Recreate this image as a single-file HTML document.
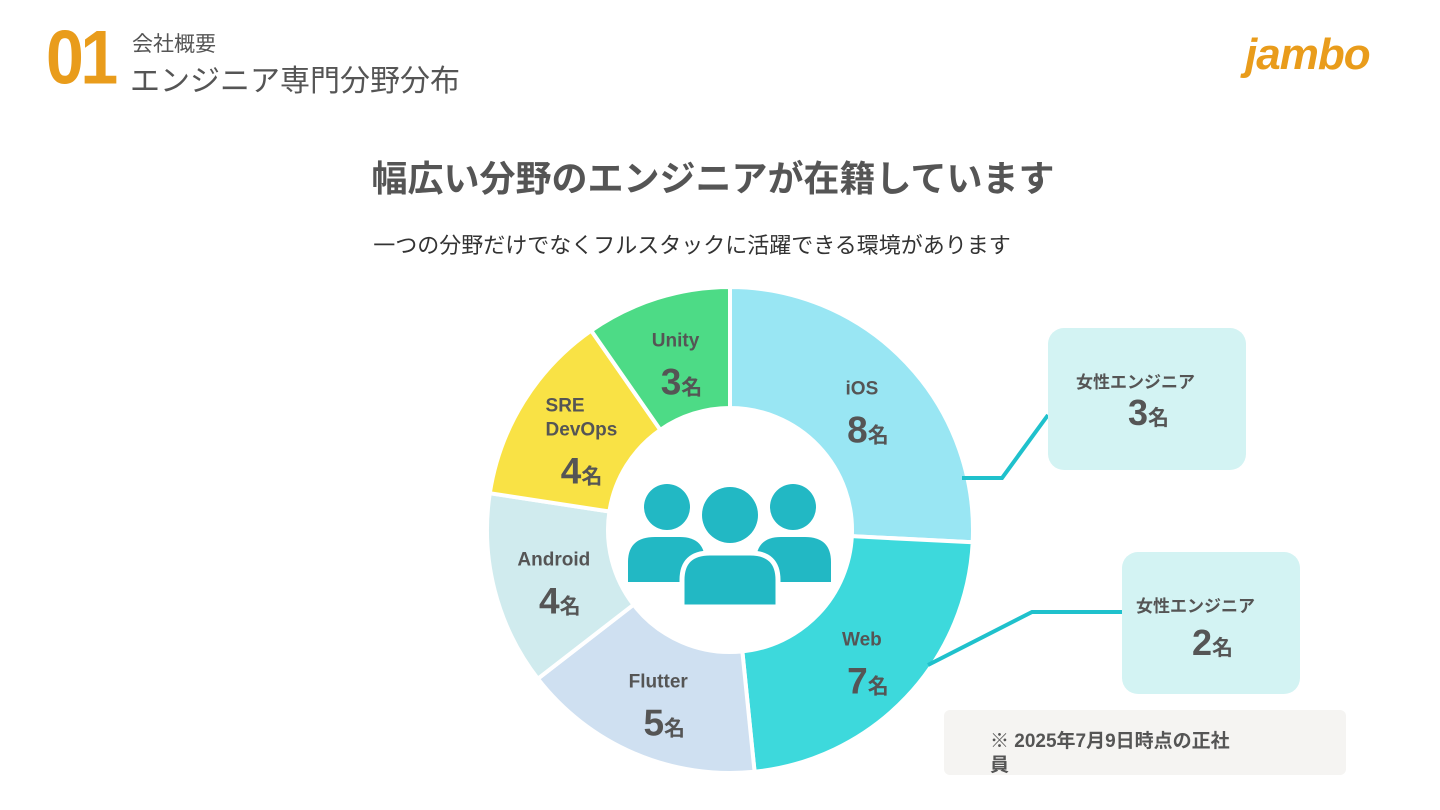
<!DOCTYPE html>
<html><head><meta charset="utf-8"><style>
body{margin:0;width:1440px;height:810px;background:#fff;overflow:hidden;font-family:"Liberation Sans","Noto Sans CJK JP",sans-serif;position:relative}
.a{position:absolute}
</style></head><body>
<div class="a" style="left:46px;top:20px;font-size:80px;font-weight:bold;color:#e99c1b;letter-spacing:-4px;transform:scale(0.85,0.95);transform-origin:left top;line-height:80px">01</div>
<div class="a" style="left:132px;top:28px;font-size:21px;color:#555">会社概要</div>
<div class="a" style="left:130px;top:56px;font-size:30px;color:#555">エンジニア専門分野分布</div>
<div class="a" style="left:1245px;top:30px;font-size:44px;font-style:italic;font-weight:bold;color:#e99c1b;font-family:'Liberation Sans',sans-serif;letter-spacing:-1px">jambo</div>
<div class="a" style="left:0;width:1426px;top:150px;text-align:center;font-size:36px;font-weight:bold;color:#555">幅広い分野のエンジニアが在籍しています</div>
<div class="a" style="left:0;width:1384px;top:228px;text-align:center;font-size:22px;color:#333">一つの分野だけでなくフルスタックに活躍できる環境があります</div>
<svg class="a" style="left:0;top:0" width="1440" height="810" id="chart">
<g id="slices"></g>
<g id="labels"></g>
<g fill="#22b8c4">
<circle cx="667" cy="507" r="23"/><circle cx="793" cy="507" r="23"/>
<path d="M628 582 L628 562 Q628 537 655 537 L680 537 Q705 537 705 562 L705 582 Z"/>
<path d="M756 582 L756 562 Q756 537 781 537 L805 537 Q831 537 831 562 L831 582 Z"/>
<circle cx="730" cy="515" r="31" fill="#fff"/><circle cx="730" cy="515" r="28"/>
<path d="M682 607 L682 580 Q682 553 710 553 L750 553 Q778 553 778 580 L778 607 Z" stroke="#fff" stroke-width="5"/>
</g>
<g fill="none" stroke="#1fc1cc" stroke-width="4">
<polyline points="962,478 1002,478 1048,415"/>
<polyline points="928,665 1032,612 1122,612"/>
</g>
</svg>
<div class="a" style="left:1048px;top:328px;width:198px;height:142px;background:#d3f3f3;border-radius:16px;color:#555;font-weight:bold">
<div style="position:absolute;left:28px;top:40px;font-size:17px">女性エンジニア</div>
<div style="position:absolute;left:80px;top:64px;font-size:36px">3<span style="font-size:21px">名</span></div></div>
<div class="a" style="left:1122px;top:552px;width:178px;height:142px;background:#d3f3f3;border-radius:16px;color:#555;font-weight:bold">
<div style="position:absolute;left:14px;top:40px;font-size:17px">女性エンジニア</div>
<div style="position:absolute;left:70px;top:70px;font-size:36px">2<span style="font-size:21px">名</span></div></div>
<div class="a" style="left:944px;top:710px;width:402px;height:65px;background:#f5f4f2;border-radius:6px;color:#555;font-weight:bold;font-size:19px">
<div style="position:absolute;left:46px;top:20px;line-height:24px">※ 2025年7月9日時点の正社<br>員</div></div>
<script>
const categories=["iOS","Web","Flutter","Android","SRE\nDevOps","Unity"];
const counts=[8,7,5,4,4,3];
const colors=["#99e6f3","#3dd9dc","#cfe0f1","#d0ebee","#f9e245","#4ddb86"];
const cx=730,cy=530,R=243,r0=122;
const ns="http://www.w3.org/2000/svg";
const total=counts.reduce((a,b)=>a+b,0);
function pt(a,r){return [cx+r*Math.sin(a),cy-r*Math.cos(a)];}
let acc=0;
const sg=document.getElementById('slices'),lg=document.getElementById('labels');
counts.forEach((v,i)=>{
 const a0=acc/total*2*Math.PI,a1=(acc+v)/total*2*Math.PI;acc+=v;
 const [x0,y0]=pt(a0,R),[x1,y1]=pt(a1,R),[x2,y2]=pt(a1,r0),[x3,y3]=pt(a0,r0);
 const lf=(a1-a0)>Math.PI?1:0;
 const p=document.createElementNS(ns,'path');
 p.setAttribute('d',`M${x0} ${y0} A${R} ${R} 0 ${lf} 1 ${x1} ${y1} L${x2} ${y2} A${r0} ${r0} 0 ${lf} 0 ${x3} ${y3} Z`);
 p.setAttribute('fill',colors[i]);p.setAttribute('stroke','#fff');p.setAttribute('stroke-width','4');
 
 
 sg.appendChild(p);
 const [lx,ly]=pt((a0+a1)/2,182);
 const lines=categories[i].split('\n');
 const g=document.createElementNS(ns,'g');
 
 
 const top=ly-10-(lines.length-1)*12;
 lines.forEach((t,j)=>{const tx=document.createElementNS(ns,'text');
  tx.setAttribute('x',lines.length>1?lx-30:lx);tx.setAttribute('y',top+j*24);
  tx.setAttribute('text-anchor',lines.length>1?'start':'middle');
  tx.setAttribute('font-size','19');tx.setAttribute('font-weight','bold');tx.setAttribute('fill','#555');
  tx.textContent=t;g.appendChild(tx);});
 const vt=document.createElementNS(ns,'text');
 vt.setAttribute('x',lx+6);vt.setAttribute('y',top+(lines.length-1)*24+48);
 vt.setAttribute('text-anchor','middle');vt.setAttribute('font-weight','bold');vt.setAttribute('fill','#555');
 vt.innerHTML=`<tspan font-size="37">${v}</tspan><tspan font-size="21">名</tspan>`;
 g.appendChild(vt);lg.appendChild(g);
});
</script>
</body></html>
